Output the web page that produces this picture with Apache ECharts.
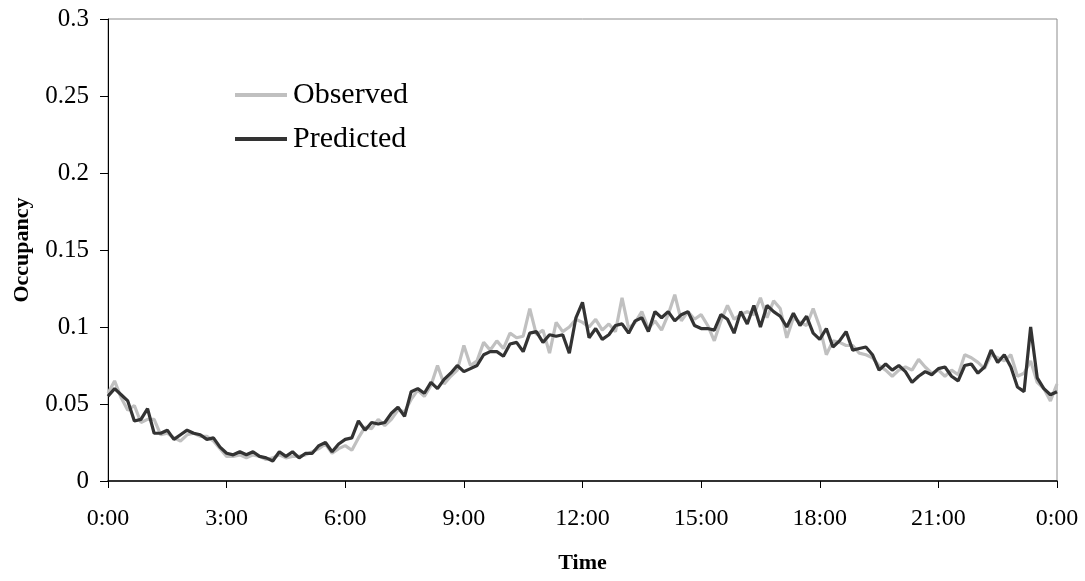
<!DOCTYPE html>
<html>
<head>
<meta charset="utf-8">
<script src="https://cdn.jsdelivr.net/npm/echarts@6/dist/echarts.min.js"></script>
<style>
html,body{margin:0;padding:0;background:#fff;}
#chart{width:1085px;height:581px;}
</style>
</head>
<body>
<div id="chart"></div>
<script>
// sampling step in minutes (0:00 .. 24:00)
const stepMinutes = 10;
const xTickLabels = ['0:00','3:00','6:00','9:00','12:00','15:00','18:00','21:00','0:00'];
const seriesNames = ['Observed', 'Predicted'];

const observed = [
0.057,0.065,0.054,0.046,0.049,0.038,
0.040,0.040,0.030,0.031,0.028,0.026,
0.030,0.031,0.029,0.029,0.026,0.021,
0.016,0.016,0.017,0.015,0.017,0.016,
0.014,0.015,0.017,0.015,0.016,0.016,
0.017,0.019,0.021,0.024,0.018,0.021,
0.023,0.020,0.028,0.035,0.034,0.040,
0.036,0.040,0.046,0.045,0.053,0.059,
0.055,0.062,0.075,0.063,0.068,0.072,
0.088,0.075,0.078,0.090,0.085,0.091,
0.086,0.096,0.093,0.094,0.112,0.095,
0.098,0.083,0.103,0.097,0.100,0.105,
0.103,0.100,0.105,0.098,0.102,0.097,
0.119,0.099,0.103,0.110,0.099,0.104,
0.098,0.108,0.121,0.104,0.110,0.105,
0.108,0.101,0.091,0.104,0.114,0.105,
0.108,0.110,0.108,0.119,0.106,0.117,
0.112,0.093,0.106,0.103,0.101,0.112,
0.100,0.082,0.091,0.090,0.088,0.088,
0.083,0.082,0.080,0.075,0.072,0.068,
0.072,0.074,0.072,0.079,0.074,0.070,
0.072,0.068,0.072,0.069,0.082,0.080,
0.077,0.073,0.082,0.080,0.078,0.082,
0.068,0.070,0.078,0.064,0.060,0.052,
0.063
];

const predicted = [
0.055,0.060,0.056,0.052,0.039,0.040,
0.047,0.031,0.031,0.033,0.027,0.030,
0.033,0.031,0.030,0.027,0.028,0.022,
0.018,0.017,0.019,0.017,0.019,0.016,
0.015,0.013,0.019,0.016,0.019,0.015,
0.018,0.018,0.023,0.025,0.019,0.024,
0.027,0.028,0.039,0.033,0.038,0.037,
0.038,0.044,0.048,0.042,0.058,0.060,
0.057,0.064,0.060,0.066,0.070,0.075,
0.071,0.073,0.075,0.082,0.084,0.084,
0.081,0.089,0.090,0.084,0.096,0.097,
0.090,0.095,0.094,0.095,0.083,0.106,
0.116,0.093,0.099,0.092,0.095,0.101,
0.102,0.096,0.104,0.106,0.097,0.110,
0.106,0.110,0.104,0.108,0.110,0.101,
0.099,0.099,0.098,0.108,0.105,0.096,
0.110,0.102,0.114,0.100,0.114,0.110,
0.107,0.100,0.109,0.101,0.107,0.096,
0.092,0.099,0.087,0.091,0.097,0.085,
0.086,0.087,0.082,0.072,0.076,0.072,
0.075,0.071,0.064,0.068,0.071,0.069,
0.073,0.074,0.068,0.065,0.075,0.076,
0.070,0.074,0.085,0.077,0.082,0.074,
0.061,0.058,0.100,0.067,0.060,0.056,
0.058
];

function toPairs(arr){ return arr.map((v,i)=>[i*stepMinutes, v]); }

const serif = '"Liberation Serif","Times New Roman",serif';
const chart = echarts.init(document.getElementById('chart'));
chart.setOption({
  animation:false,
  backgroundColor:'#ffffff',
  grid:{left:108,right:28,top:19,bottom:100,containLabel:false,outerBoundsMode:'none',
        show:true,borderColor:'#8c8c8c',borderWidth:1,backgroundColor:'transparent'},
  legend:{
    orient:'vertical', left:235, top:80, padding:0, itemGap:14, itemWidth:52, itemHeight:4,
    icon:'rect',
    data:[
      {name:seriesNames[0], itemStyle:{color:'#c0c0c0'}},
      {name:seriesNames[1], itemStyle:{color:'#333333'}}
    ],
    textStyle:{fontFamily:serif,fontSize:30,color:'#000',padding:[0,0,0,1]}
  },
  xAxis:{
    type:'value', min:0, max:1440, interval:180,
    name:'Time', nameLocation:'middle', nameGap:71,
    nameTextStyle:{fontFamily:serif,fontSize:22,fontWeight:'bold',color:'#000'},
    axisLine:{show:true,lineStyle:{color:'#000',width:1.5}},
    axisTick:{show:true,inside:false,length:7,lineStyle:{color:'#000'}},
    axisLabel:{margin:26,fontFamily:serif,fontSize:24,color:'#000',
      formatter:function(v){ return xTickLabels[Math.round(v/180)]; }},
    splitLine:{show:false}
  },
  yAxis:{
    type:'value', min:0, max:0.3, interval:0.05,
    name:'Occupancy', nameLocation:'middle', nameGap:75, nameRotate:90,
    nameTextStyle:{fontFamily:serif,fontSize:22,fontWeight:'bold',color:'#000'},
    axisLine:{show:true,lineStyle:{color:'#000',width:1}},
    axisTick:{show:true,inside:false,length:8,lineStyle:{color:'#000'}},
    axisLabel:{margin:19,fontFamily:serif,fontSize:25,color:'#000'},
    splitLine:{show:false}
  },
  series:[
    {name:seriesNames[0],type:'line',data:toPairs(observed),showSymbol:false,symbol:'none',
     lineStyle:{color:'#c0c0c0',width:3.2},itemStyle:{color:'#c0c0c0'},z:2},
    {name:seriesNames[1],type:'line',data:toPairs(predicted),showSymbol:false,symbol:'none',
     lineStyle:{color:'#333333',width:3.2},itemStyle:{color:'#333333'},z:3}
  ]
});
</script>
</body>
</html>
